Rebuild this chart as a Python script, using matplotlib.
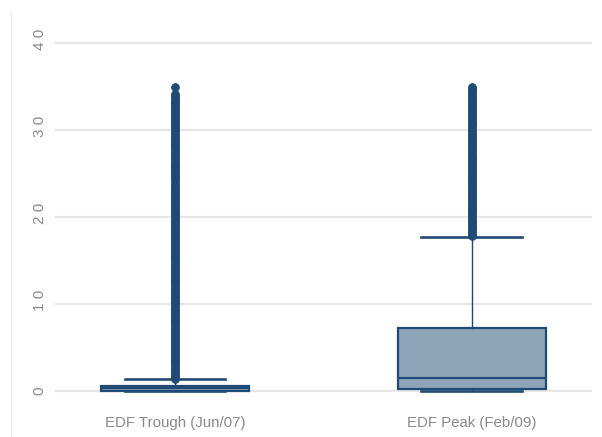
import matplotlib
matplotlib.use("Agg")
import matplotlib.pyplot as plt
from matplotlib.lines import Line2D
from matplotlib.transforms import ScaledTranslation

# --- data -------------------------------------------------------------
categories = ["EDF Trough (Jun/07)", "EDF Peak (Feb/09)"]
q1 = [0.05, 0.2]
medians = [0.3, 1.46]
q3 = [0.55, 7.25]
whisker_low = [0.0, 0.0]
whisker_high = [1.35, 17.7]

outliers_trough = [
    1.42, 1.6, 1.85, 2.07, 2.3, 2.51, 2.72, 2.96, 3.18, 3.4, 3.61, 3.83,
    4.05, 4.28, 4.49, 4.7, 4.93, 5.15, 5.37, 5.58, 5.8, 6.03, 6.24, 6.46,
    6.68, 6.9, 7.12, 7.33, 7.56, 7.78, 8.0, 8.21, 8.44, 8.66, 8.87, 9.1,
    9.32, 9.53, 9.75, 9.98, 10.2, 10.41, 10.63, 10.86, 11.07, 11.3, 11.52,
    11.73, 11.95, 12.18, 12.4, 12.61, 12.83, 13.06, 13.27, 13.5, 13.72,
    13.93, 14.15, 14.38, 14.6, 14.81, 15.03, 15.26, 15.47, 15.7, 15.92,
    16.13, 16.35, 16.58, 16.8, 17.01, 17.23, 17.46, 17.67, 17.9, 18.12,
    18.33, 18.55, 18.78, 19.0, 19.21, 19.43, 19.66, 19.87, 20.1, 20.32,
    20.53, 20.75, 20.98, 21.2, 21.41, 21.63, 21.86, 22.07, 22.3, 22.52,
    22.73, 22.95, 23.18, 23.4, 23.61, 23.83, 24.15, 24.4, 24.62, 24.85,
    25.07, 25.28, 25.5, 25.73, 25.95, 26.16, 26.38, 26.61, 26.82, 27.05,
    27.27, 27.48, 27.7, 27.93, 28.15, 28.36, 28.58, 28.81, 29.02, 29.25,
    29.47, 29.68, 29.9, 30.13, 30.35, 30.56, 30.78, 31.01, 31.22, 31.45,
    31.67, 31.88, 32.1, 32.33, 32.55, 32.76, 32.98, 33.21, 33.42, 33.7,
    33.95, 34.2, 35.0,
]
outliers_peak = [
    17.85, 18.06, 18.28, 18.5, 18.71, 18.93, 19.15, 19.37, 19.58, 19.8,
    20.02, 20.24, 20.45, 20.67, 20.89, 21.11, 21.32, 21.54, 21.76, 21.98,
    22.19, 22.41, 22.63, 22.85, 23.06, 23.28, 23.5, 23.72, 23.93, 24.15,
    24.37, 24.59, 24.8, 25.02, 25.24, 25.46, 25.67, 25.89, 26.11, 26.33,
    26.54, 26.76, 26.98, 27.2, 27.41, 27.63, 27.85, 28.07, 28.28, 28.5,
    28.72, 28.94, 29.15, 29.37, 29.59, 29.81, 30.02, 30.24, 30.46, 30.68,
    30.89, 31.11, 31.33, 31.55, 31.76, 31.98, 32.2, 32.42, 32.63, 32.85,
    33.07, 33.29, 33.5, 33.72, 33.94, 34.16, 34.37, 34.59, 34.81, 35.0,
]
outliers = [outliers_trough, outliers_peak]

y_ticks = [0, 10, 20, 30, 40]
y_tick_labels = ["0", "1 0", "2 0", "3 0", "4 0"]

# --- style ------------------------------------------------------------
navy = "#1f4a75"
fill = (0x1f / 255, 0x4a / 255, 0x75 / 255, 0.5)
label_grey = "#8a8a8a"
grid_grey = "#e6e6e6"
font = "Liberation Sans"

fig = plt.figure(figsize=(6.02, 4.37), dpi=100)
ax = fig.add_axes([0.0914, 0.0854, 0.892, 0.845])

stats = []
for i, name in enumerate(categories):
    stats.append(dict(label=name, q1=q1[i], med=medians[i], q3=q3[i],
                      whislo=whisker_low[i], whishi=whisker_high[i],
                      fliers=outliers[i]))

ax.bxp(stats, positions=[1, 2], widths=0.5, capwidths=[0.34, 0.34],
       patch_artist=True,
       boxprops=dict(facecolor=fill, edgecolor=navy, linewidth=1.6),
       medianprops=dict(color=navy, linewidth=1.6),
       whiskerprops=dict(color=navy, linewidth=1.0),
       capprops=dict(color=navy, linewidth=1.9),
       flierprops=dict(marker="o", markersize=5.6, markerfacecolor=navy,
                       markeredgecolor=navy, markeredgewidth=0.6,
                       linestyle="none"))

ax.set_xlim(0.5956, 2.4054)
ax.set_ylim(-1, 41.5)

ax.set_yticks(y_ticks)
ax.set_yticklabels(y_tick_labels, rotation=90, va="center",
                   fontsize=11, color=label_grey, family=font)
ax.set_xticks([1, 2])
ax.set_xticklabels(categories, fontsize=10.8, color=label_grey, family=font)
ax.tick_params(axis="both", length=0)
ax.tick_params(axis="y", pad=6)
ax.tick_params(axis="x", pad=12)

# nudge two-digit labels so their digits sit as drawn
for lab in ax.get_yticklabels():
    if len(lab.get_text()) > 1:
        lab.set_transform(lab.get_transform() +
                          ScaledTranslation(0, 4 / 100, fig.dpi_scale_trans))

ax.yaxis.grid(True, color=grid_grey, linewidth=1.6)
ax.set_axisbelow(True)
for s in ax.spines.values():
    s.set_visible(False)

# thin rule at the left edge of the figure
fig.add_artist(Line2D([11 / 602, 11 / 602], [0, 1 - 12 / 437],
                      transform=fig.transFigure, color="#ececec",
                      linewidth=0.8))

fig.savefig("out.png", dpi=100)
